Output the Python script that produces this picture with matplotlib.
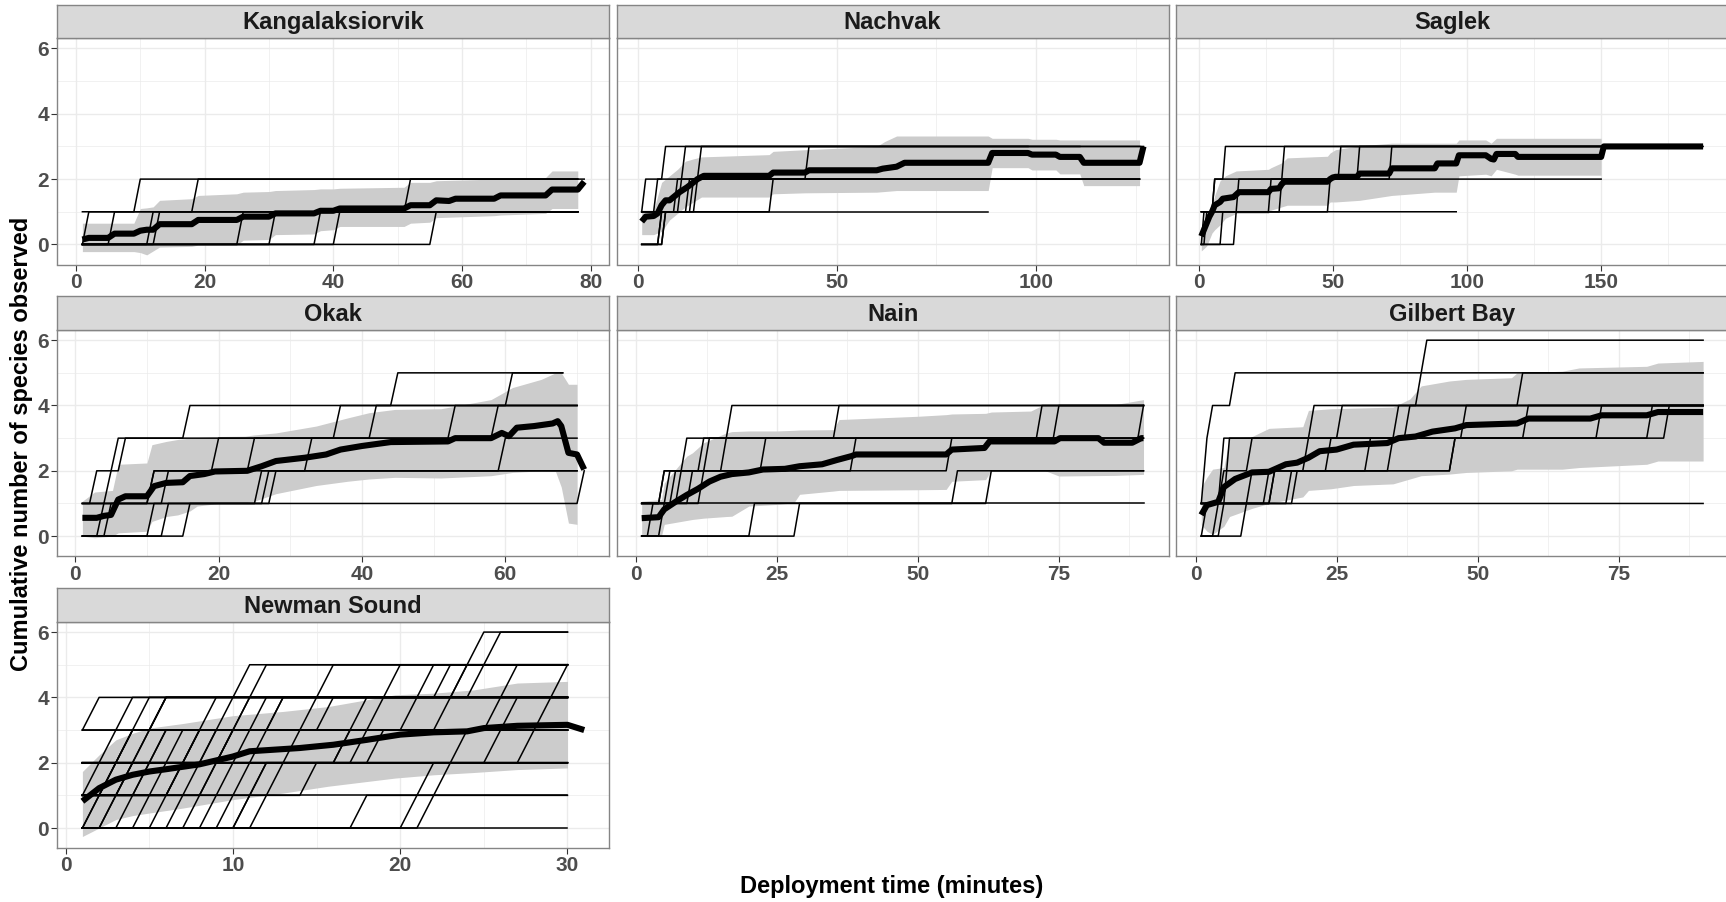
import numpy as np
import matplotlib
matplotlib.use('Agg')
import matplotlib.pyplot as plt

plt.rcParams['font.family'] = ['Liberation Sans', 'DejaVu Sans']

# ---------------- data ----------------
sites = ['Kangalaksiorvik', 'Nachvak', 'Saglek', 'Okak', 'Nain', 'Gilbert Bay', 'Newman Sound']
x_max = [79, 127, 188, 71, 90, 90, 31]

y_ticks = [0, 2, 4, 6]
y_minor = [1, 3, 5]
x_ticks = [[0, 20, 40, 60, 80], [0, 50, 100], [0, 50, 100, 150],
           [0, 20, 40, 60], [0, 25, 50, 75], [0, 25, 50, 75], [0, 10, 20, 30]]
x_minor = [[10, 30, 50, 70], [25, 75, 125], [25, 75, 125, 175],
           [10, 30, 50, 70], [12.5, 37.5, 62.5, 87.5], [12.5, 37.5, 62.5, 87.5], [5, 15, 25]]

# deployments: (species at minute 1, minutes at which one more species is reached, last minute)
kang_deploy = [(1, [10], 79), (0, [2, 19], 78), (0, [6, 52], 78), (0, [12], 78), (0, [13], 78),
               (0, [26], 78), (0, [31], 78), (0, [38], 78), (0, [41], 78), (0, [56], 78)]
nach_deploy = [(1, [2, 7], 127), (1, [5, 12], 126), (0, [6, 10, 16], 111), (1, [11, 43], 98),
               (0, [7, 13], 126), (0, [6, 34], 105), (1, [15], 126), (1, [], 88), (0, [7, 14], 126)]
sag_deploy = [(1, [6, 10], 188), (0, [2, 15, 32], 150), (1, [27, 53], 150), (1, [31, 60], 150),
              (0, [9, 49, 72], 150), (0, [14], 96), (0, [3, 6], 150)]
okak_deploy = [(1, [3, 6, 16, 45], 68), (1, [5, 7, 37, 61], 68), (0, [4, 11, 25, 42], 70),
               (1, [11, 33, 59], 70), (0, [11, 13, 20, 53], 70), (0, [13, 26, 60], 70),
               (0, [16, 28], 70), (1, [71], 71), (0, [5, 27], 70)]
nain_deploy = [(1, [5, 9, 17], 90), (0, [3, 5, 12, 36], 90), (1, [6, 13, 72], 90), (1, [7, 16, 75], 90),
               (1, [8, 23, 90], 90), (0, [5, 10, 39], 90), (1, [12, 56], 90), (0, [21, 57], 90),
               (0, [29, 63], 90), (1, [], 90)]
gil_deploy = [(1, [2, 2, 3, 7], 90), (0, [4, 5, 5, 21, 40, 41], 90), (0, [5, 6, 6, 26, 58], 90),
              (1, [5, 10, 36], 90), (0, [9, 10, 24, 38], 90), (1, [14, 20, 48], 90),
              (1, [18, 31, 59], 90), (1, [14, 35, 72], 90), (1, [13, 46, 81], 90),
              (1, [17, 46, 84], 90), (0, [2], 90)]
new_deploy = [(0, [], 30), (0, [18], 30), (1, [], 30), (0, [21, 22], 30), (0, [22, 23], 30),
              (0, [12, 13], 30), (1, [15], 30), (2, [], 30), (0, [2, 3, 14], 30), (0, [3, 4, 17], 30),
              (1, [5, 19], 30), (0, [11, 12, 24], 30), (2, [28], 30), (0, [4, 5, 6, 21], 30),
              (0, [5, 6, 7, 23], 30), (1, [7, 8, 26], 30), (3, [2], 30), (0, [8, 9, 10, 29], 30),
              (0, [9, 10, 11, 12, 16], 30), (0, [10, 11, 12, 13, 20], 30), (1, [3, 4, 10, 11], 30),
              (2, [6, 15, 22], 30), (1, [7, 9, 19, 27], 30), (2, [4, 18, 24, 25], 30),
              (3, [13, 25, 26], 30), (2, [8, 16, 30], 30), (3, [6, 23], 30), (1, [2, 17, 27], 30),
              (0, [2, 3, 4, 5], 30), (0, [3, 4, 5, 6, 24], 30), (0, [6, 7, 8, 9], 30),
              (0, [7, 8, 9], 30), (1, [4, 5, 6], 30), (1, [9, 10, 11, 12], 30), (2, [10, 11], 30),
              (0, [11, 12], 30), (2, [3, 4], 30), (2, [18], 30), (2, [26], 30)]

# mean curves
kang_mean_x = [1, 2, 5, 6, 9, 10, 11, 12, 13, 18, 19, 25, 26, 30, 31, 37, 38, 40, 41, 51, 52, 55, 56, 58, 59, 65, 66, 73, 74, 78, 79]
kang_mean_y = [0.15, 0.2, 0.2, 0.33, 0.33, 0.42, 0.45, 0.45, 0.62, 0.62, 0.75, 0.75, 0.85, 0.85, 0.95, 0.95, 1.03, 1.03, 1.1, 1.1, 1.2, 1.2, 1.35, 1.33, 1.4, 1.4, 1.5, 1.5, 1.68, 1.68, 1.92]
nach_mean_x = [1, 2, 4, 5, 6, 7, 8, 9, 10.5, 12.4, 14, 15, 16.6, 33, 34, 42, 43, 60, 61.5, 65, 67, 88, 89, 98, 99, 105, 106, 111, 112, 126, 127]
nach_mean_y = [0.7, 0.85, 0.87, 0.95, 1.2, 1.35, 1.35, 1.45, 1.6, 1.75, 1.9, 2.0, 2.1, 2.1, 2.2, 2.2, 2.27, 2.27, 2.32, 2.38, 2.5, 2.5, 2.8, 2.8, 2.75, 2.75, 2.68, 2.68, 2.5, 2.5, 3.0]
sag_mean_x = [1, 2, 3, 4, 5, 6, 8, 9, 13, 15, 26, 27, 30, 31, 32, 48, 49, 50, 51, 59, 60, 71, 72, 88, 89, 96, 97, 107, 109, 110, 111, 118, 119, 150, 151, 188]
sag_mean_y = [0.25, 0.45, 0.65, 0.85, 1.0, 1.2, 1.3, 1.4, 1.45, 1.6, 1.6, 1.7, 1.72, 1.85, 1.92, 1.92, 2.0, 2.05, 2.07, 2.07, 2.17, 2.17, 2.33, 2.33, 2.48, 2.48, 2.73, 2.73, 2.62, 2.6, 2.77, 2.77, 2.68, 2.68, 3.0, 3.0]
okak_mean_x = [1, 3, 4, 5, 6, 7, 10, 11, 12.7, 15, 16, 18, 19.5, 24, 26, 28, 32, 35, 37, 40, 44, 52, 53, 58, 59.5, 60.5, 61.6, 64, 66.6, 67.3, 67.8, 68.8, 70, 71]
okak_mean_y = [0.56, 0.56, 0.62, 0.65, 1.12, 1.22, 1.22, 1.53, 1.63, 1.65, 1.84, 1.9, 1.98, 2.0, 2.14, 2.3, 2.4, 2.5, 2.65, 2.76, 2.88, 2.9, 3.0, 3.0, 3.16, 3.06, 3.32, 3.37, 3.45, 3.52, 3.37, 2.55, 2.5, 2.04]
nain_mean_x = [1, 4, 5, 7, 9, 11, 13, 15, 17, 20, 22.5, 26.4, 29, 33, 35.6, 38.2, 39, 55, 56, 61.8, 62.7, 74.2, 75.2, 82, 83, 88, 89.6, 90]
nain_mean_y = [0.55, 0.58, 0.82, 1.05, 1.26, 1.45, 1.67, 1.82, 1.9, 1.95, 2.04, 2.06, 2.14, 2.2, 2.33, 2.45, 2.5, 2.5, 2.65, 2.7, 2.9, 2.9, 3.0, 3.0, 2.86, 2.86, 3.0, 3.0]
gil_mean_x = [1, 2, 3, 4, 5, 7, 10, 13, 16, 18, 20, 22, 25, 28, 34, 36, 39, 42, 46, 48, 57, 59, 70, 72, 80, 82, 90]
gil_mean_y = [0.65, 0.95, 1.0, 1.05, 1.5, 1.75, 1.95, 1.97, 2.2, 2.25, 2.4, 2.6, 2.65, 2.8, 2.85, 3.0, 3.05, 3.2, 3.3, 3.4, 3.45, 3.6, 3.6, 3.7, 3.7, 3.8, 3.8]
new_mean_x = [1, 2, 3, 4, 5, 6, 8, 10, 11, 14, 16, 18, 20, 22, 24, 25, 27, 30, 31]
new_mean_y = [0.82, 1.22, 1.48, 1.63, 1.73, 1.8, 1.95, 2.19, 2.35, 2.45, 2.55, 2.7, 2.86, 2.93, 2.96, 3.06, 3.13, 3.16, 3.0]

# ribbons (mean +/- sd)
kang_rib_x = [1, 9, 10, 11, 12, 13, 18, 19, 25, 26, 30, 31, 37, 38, 40, 41, 51, 52, 55, 56, 65, 66, 73, 74, 78]
kang_rib_hi = [0.65, 0.65, 1.1, 1.12, 1.15, 1.35, 1.4, 1.5, 1.55, 1.6, 1.62, 1.65, 1.68, 1.7, 1.7, 1.72, 1.75, 1.9, 1.9, 1.95, 2.0, 2.02, 2.05, 2.25, 2.25]
kang_rib_lo = [-0.22, -0.22, -0.25, -0.32, -0.2, -0.08, -0.06, -0.02, -0.02, 0.13, 0.15, 0.3, 0.32, 0.42, 0.45, 0.55, 0.55, 0.65, 0.68, 0.82, 0.88, 0.9, 0.95, 1.1, 1.1]
nach_rib_x = [1, 4, 6, 8, 10, 12, 14, 16, 33, 34, 42, 60, 62, 65, 88, 89, 98, 99, 105, 106, 111, 112, 126]
nach_rib_hi = [1.05, 1.05, 1.9, 2.1, 2.3, 2.55, 2.62, 2.68, 2.75, 2.85, 2.9, 3.0, 3.15, 3.32, 3.32, 3.25, 3.25, 3.22, 3.22, 3.2, 3.2, 3.2, 3.2]
nach_rib_lo = [0.3, 0.3, 0.4, 0.75, 0.95, 1.15, 1.3, 1.45, 1.45, 1.55, 1.58, 1.6, 1.62, 1.65, 1.65, 2.35, 2.35, 2.28, 2.28, 2.16, 2.16, 1.8, 1.8]
sag_rib_x = [1, 3, 5, 6, 8, 10, 14, 26, 27, 31, 33, 48, 49, 51, 60, 72, 88, 96, 97, 107, 109, 111, 118, 119, 150]
sag_rib_hi = [0.45, 0.7, 1.15, 1.5, 1.95, 2.1, 2.25, 2.3, 2.35, 2.5, 2.65, 2.7, 2.8, 2.9, 3.02, 3.1, 3.1, 3.1, 3.2, 3.2, 3.1, 3.25, 3.25, 3.25, 3.25]
sag_rib_lo = [-0.2, -0.05, 0.35, 0.45, 0.6, 0.8, 0.95, 0.95, 1.05, 1.15, 1.2, 1.2, 1.3, 1.3, 1.35, 1.5, 1.6, 1.6, 2.1, 2.15, 2.1, 2.3, 2.15, 2.12, 2.12]
okak_rib_x = [1, 2.7, 5.2, 6, 10, 10.7, 12.7, 14.3, 16, 17, 20, 23.7, 25, 28, 33.6, 38, 41, 44.6, 51, 58, 61, 65, 67, 67.8, 68.8, 70]
okak_rib_hi = [1.07, 1.35, 1.4, 2.2, 2.24, 2.8, 2.9, 2.96, 3.0, 3.02, 3.05, 3.06, 3.1, 3.16, 3.37, 3.62, 3.78, 3.88, 3.9, 4.18, 4.55, 4.8, 5.0, 5.0, 4.65, 4.65]
okak_rib_lo = [0.0, -0.05, 0.0, 0.1, 0.15, 0.45, 0.6, 0.65, 0.77, 0.92, 1.0, 1.02, 1.07, 1.3, 1.55, 1.68, 1.75, 1.8, 1.78, 1.85, 1.95, 2.0, 1.98, 1.5, 0.4, 0.36]
nain_rib_x = [1, 4.5, 5, 7, 9, 10, 12, 16, 17, 20, 25, 28, 29, 35, 36, 50, 55, 56, 62, 63, 70, 72, 75, 85, 90]
nain_rib_hi = [1.07, 1.12, 1.63, 2.04, 2.45, 2.55, 2.86, 3.16, 3.2, 3.22, 3.22, 3.24, 3.25, 3.26, 3.57, 3.67, 3.72, 3.74, 3.76, 3.8, 3.83, 4.0, 4.02, 4.03, 4.18]
nain_rib_lo = [0.0, 0.0, 0.36, 0.42, 0.48, 0.51, 0.55, 0.6, 0.61, 0.92, 0.97, 1.02, 1.28, 1.38, 1.4, 1.42, 1.43, 1.68, 1.73, 2.04, 2.04, 2.04, 1.84, 1.86, 1.89]
gil_rib_x = [1, 2, 3, 5, 6, 10, 13, 19, 20, 24, 28, 35, 38, 40, 45, 48, 56, 57, 65, 68, 80, 82, 90]
gil_rib_hi = [1.5, 1.8, 2.05, 2.1, 3.0, 3.05, 3.3, 3.35, 3.85, 3.9, 3.92, 3.95, 4.2, 4.6, 4.75, 4.8, 4.85, 5.0, 5.05, 5.15, 5.2, 5.3, 5.35]
gil_rib_lo = [0.35, 0.15, 0.05, 0.3, 0.6, 0.85, 1.0, 1.2, 1.4, 1.45, 1.55, 1.6, 1.75, 1.85, 1.9, 1.95, 2.0, 2.05, 2.05, 2.1, 2.2, 2.3, 2.3]
new_rib_x = [1, 2, 3, 4, 5, 7, 10, 13, 15.7, 19.7, 22, 24.4, 27, 30]
new_rib_hi = [1.73, 2.24, 2.7, 2.9, 3.06, 3.2, 3.44, 3.57, 3.72, 4.08, 4.13, 4.23, 4.44, 4.49]
new_rib_lo = [-0.26, 0.0, 0.26, 0.38, 0.46, 0.61, 0.87, 1.07, 1.28, 1.53, 1.63, 1.7, 1.79, 1.84]

deploys = [kang_deploy, nach_deploy, sag_deploy, okak_deploy, nain_deploy, gil_deploy, new_deploy]
means = [(kang_mean_x, kang_mean_y), (nach_mean_x, nach_mean_y), (sag_mean_x, sag_mean_y),
         (okak_mean_x, okak_mean_y), (nain_mean_x, nain_mean_y), (gil_mean_x, gil_mean_y),
         (new_mean_x, new_mean_y)]
ribbons = [(kang_rib_x, kang_rib_lo, kang_rib_hi), (nach_rib_x, nach_rib_lo, nach_rib_hi),
           (sag_rib_x, sag_rib_lo, sag_rib_hi), (okak_rib_x, okak_rib_lo, okak_rib_hi),
           (nain_rib_x, nain_rib_lo, nain_rib_hi), (gil_rib_x, gil_rib_lo, gil_rib_hi),
           (new_rib_x, new_rib_lo, new_rib_hi)]

# ---------------- layout ----------------
W, H = 1726, 902
fig = plt.figure(figsize=(W / 100, H / 100), dpi=100)

col_left = [57.3, 616.6, 1176.2]
panel_w = 552.0
row_bottom = [264.5, 556.2, 848.1]
panel_h = 226.3
strip_h = 33.5

border_col = '#858585'
grid_col = '#EBEBEB'


def dep_series(v0, jumps, end):
    t = np.arange(1, end + 1)
    j = np.asarray(jumps, dtype=float)
    y = np.array([v0 + np.sum(j <= tt) for tt in t])
    return t, y


for i, site in enumerate(sites):
    r, c = divmod(i, 3)
    left = col_left[c]
    bottom = row_bottom[r]
    ax = fig.add_axes([left / W, 1 - bottom / H, panel_w / W, panel_h / H])
    # strip
    sax = fig.add_axes([left / W, 1 - (bottom - panel_h) / H, panel_w / W, strip_h / H])
    sax.set_facecolor('#D9D9D9')
    sax.set_xticks([])
    sax.set_yticks([])
    for s in sax.spines.values():
        s.set_color(border_col)
        s.set_linewidth(1.0)
    sax.text(0.5, 0.47, site, ha='center', va='center', fontsize=17, fontweight='bold',
             color='#1A1A1A', transform=sax.transAxes)

    xm = x_max[i]
    rng = xm - 1
    ax.set_xlim(1 - 0.05 * rng, xm + 0.05 * rng)
    ax.set_ylim(-0.615, 6.315)
    ax.set_xticks(x_ticks[i])
    ax.set_xticks(x_minor[i], minor=True)
    ax.set_yticks(y_ticks)
    ax.set_yticks(y_minor, minor=True)
    ax.grid(which='major', color=grid_col, lw=1.0, zorder=0)
    ax.grid(which='minor', color=grid_col, lw=0.5, zorder=0)
    ax.set_axisbelow(True)

    rx, rlo, rhi = ribbons[i]
    ax.fill_between(rx, rlo, rhi, color='#CCCCCC', lw=0, zorder=1)
    for (v0, jumps, end) in deploys[i]:
        t, y = dep_series(v0, jumps, end)
        ax.plot(t, y, color='black', lw=1.1, zorder=2)
    mx, my = means[i]
    ax.plot(mx, my, color='black', lw=4.4, zorder=3, solid_capstyle='butt', solid_joinstyle='round')

    for s in ax.spines.values():
        s.set_color(border_col)
        s.set_linewidth(1.0)
    ax.tick_params(which='major', length=4, width=0.8, color='#333333', labelsize=15,
                   labelcolor='#4D4D4D', pad=2)
    ax.tick_params(which='minor', length=0)
    ax.set_xticklabels([str(v) for v in x_ticks[i]], fontweight='bold')
    if c == 0:
        ax.set_yticklabels([str(v) for v in y_ticks], fontweight='bold')
    else:
        ax.tick_params(axis='y', which='both', left=False, labelleft=False)

fig.text(22 / W, 1 - 444 / H, 'Cumulative number of species observed', rotation=90,
         ha='center', va='center', fontsize=17, fontweight='bold', color='black')
fig.text(892 / W, 1 - 886 / H, 'Deployment time (minutes)', ha='center', va='center',
         fontsize=17, fontweight='bold', color='black')

fig.savefig('out.png', dpi=100)
